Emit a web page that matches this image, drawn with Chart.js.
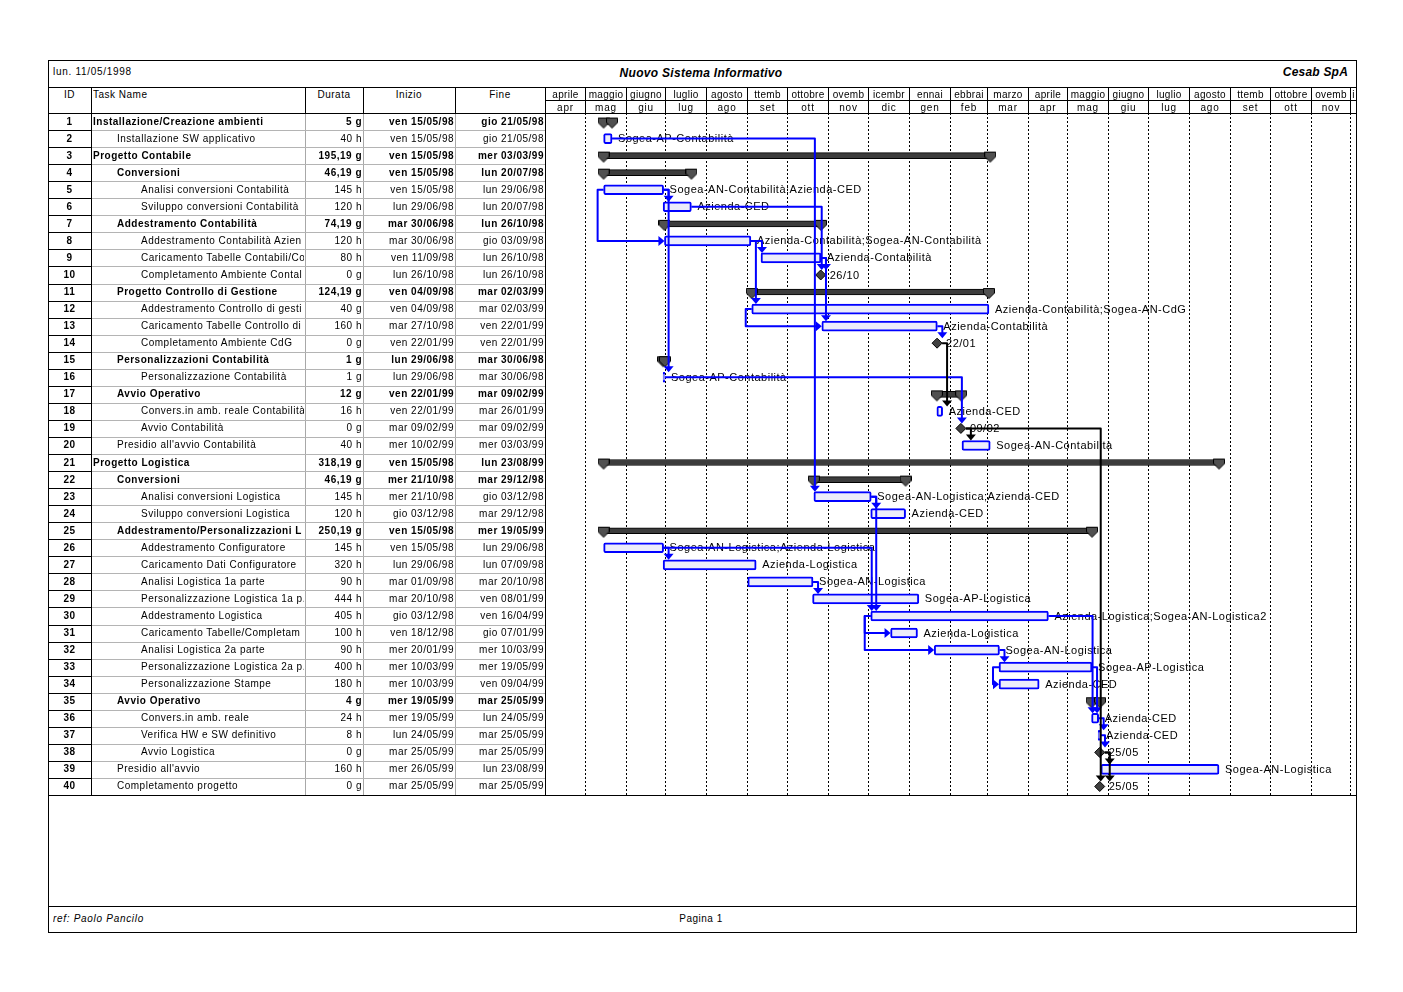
<!DOCTYPE html>
<html>
<head>
<meta charset="utf-8">
<script src="https://cdn.jsdelivr.net/npm/chart.js@4.4.1/dist/chart.umd.min.js"></script>
<style>
body { margin: 0; background: #fff; }
#page { position: relative; width: 1403px; height: 992px; overflow: hidden;
  font-family: "Liberation Sans", Arial, sans-serif; font-size: 10px; color: #000; }
.t { position: absolute; white-space: nowrap; overflow: hidden; letter-spacing: 0.5px; }
.ln { position: absolute; }
#gantt { position: absolute; left: 545px; top: 113px; width: 811px; height: 682px; }
</style>
</head>
<body>
<div id="page"><canvas id="gantt" width="811" height="682"></canvas></div>
<script>
"use strict";

const taskNames = [
  'Installazione/Creazione ambienti', 'Installazione SW applicativo', 'Progetto Contabile', 'Conversioni',
  'Analisi conversioni Contabilità', 'Sviluppo conversioni Contabilità', 'Addestramento Contabilità',
  'Addestramento Contabilità Azien', 'Caricamento Tabelle Contabili/Co', 'Completamento Ambiente Contal',
  'Progetto Controllo di Gestione', 'Addestramento Controllo di gesti', 'Caricamento Tabelle Controllo di',
  'Completamento Ambiente CdG', 'Personalizzazioni Contabilità', 'Personalizzazione Contabilità',
  'Avvio Operativo', 'Convers.in amb. reale Contabilità', 'Avvio Contabilità', "Presidio all'avvio Contabilità",
  'Progetto Logistica', 'Conversioni', 'Analisi conversioni Logistica', 'Sviluppo conversioni Logistica',
  'Addestramento/Personalizzazioni L', 'Addestramento Configuratore', 'Caricamento Dati Configuratore',
  'Analisi Logistica 1a parte', 'Personalizzazione Logistica 1a p.', 'Addestramento Logistica',
  'Caricamento Tabelle/Completam', 'Analisi Logistica 2a parte', 'Personalizzazione Logistica 2a p.',
  'Personalizzazione Stampe', 'Avvio Operativo', 'Convers.in amb. reale', 'Verifica HW e SW definitivo',
  'Avvio Logistica', "Presidio all'avvio", 'Completamento progetto'
];
const durations = [
  '5 g', '40 h', '195,19 g', '46,19 g', '145 h', '120 h', '74,19 g', '120 h', '80 h', '0 g',
  '124,19 g', '40 g', '160 h', '0 g', '1 g', '1 g', '12 g', '16 h', '0 g', '40 h',
  '318,19 g', '46,19 g', '145 h', '120 h', '250,19 g', '145 h', '320 h', '90 h', '444 h', '405 h',
  '100 h', '90 h', '400 h', '180 h', '4 g', '24 h', '8 h', '0 g', '160 h', '0 g'
];
const startDates = [
  'ven 15/05/98', 'ven 15/05/98', 'ven 15/05/98', 'ven 15/05/98', 'ven 15/05/98', 'lun 29/06/98',
  'mar 30/06/98', 'mar 30/06/98', 'ven 11/09/98', 'lun 26/10/98', 'ven 04/09/98', 'ven 04/09/98',
  'mar 27/10/98', 'ven 22/01/99', 'lun 29/06/98', 'lun 29/06/98', 'ven 22/01/99', 'ven 22/01/99',
  'mar 09/02/99', 'mer 10/02/99', 'ven 15/05/98', 'mer 21/10/98', 'mer 21/10/98', 'gio 03/12/98',
  'ven 15/05/98', 'ven 15/05/98', 'lun 29/06/98', 'mar 01/09/98', 'mar 20/10/98', 'gio 03/12/98',
  'ven 18/12/98', 'mer 20/01/99', 'mer 10/03/99', 'mer 10/03/99', 'mer 19/05/99', 'mer 19/05/99',
  'lun 24/05/99', 'mar 25/05/99', 'mer 26/05/99', 'mar 25/05/99'
];
const endDates = [
  'gio 21/05/98', 'gio 21/05/98', 'mer 03/03/99', 'lun 20/07/98', 'lun 29/06/98', 'lun 20/07/98',
  'lun 26/10/98', 'gio 03/09/98', 'lun 26/10/98', 'lun 26/10/98', 'mar 02/03/99', 'mar 02/03/99',
  'ven 22/01/99', 'ven 22/01/99', 'mar 30/06/98', 'mar 30/06/98', 'mar 09/02/99', 'mar 26/01/99',
  'mar 09/02/99', 'mer 03/03/99', 'lun 23/08/99', 'mar 29/12/98', 'gio 03/12/98', 'mar 29/12/98',
  'mer 19/05/99', 'lun 29/06/98', 'lun 07/09/98', 'mar 20/10/98', 'ven 08/01/99', 'ven 16/04/99',
  'gio 07/01/99', 'mer 10/03/99', 'mer 19/05/99', 'ven 09/04/99', 'mar 25/05/99', 'lun 24/05/99',
  'mar 25/05/99', 'mar 25/05/99', 'lun 23/08/99', 'mar 25/05/99'
];
// S = summary, T = task, M = milestone
const taskKinds = ['S','T','S','S','T','T','S','T','T','M','S','T','T','M','S','T','S','T','M','T',
  'S','S','T','T','S','T','T','T','T','T','T','T','T','T','S','T','T','M','T','M'];
const outlineLevel = [0,1,0,1,2,2,1,2,2,2,1,2,2,2,1,2,1,2,2,1,0,1,2,2,1,2,2,2,2,2,2,2,2,2,1,2,2,2,1,1];
const resources = [
  '', 'Sogea-AP-Contabilità', '', '', 'Sogea-AN-Contabilità;Azienda-CED', 'Azienda-CED', '',
  'Azienda-Contabilità;Sogea-AN-Contabilità', 'Azienda-Contabilità', '26/10', '',
  'Azienda-Contabilità;Sogea-AN-CdG', 'Azienda-Contabilità', '22/01', '', 'Sogea-AP-Contabilità', '',
  'Azienda-CED', '09/02', 'Sogea-AN-Contabilità', '', '', 'Sogea-AN-Logistica;Azienda-CED', 'Azienda-CED', '',
  'Sogea-AN-Logistica;Azienda-Logistica', 'Azienda-Logistica', 'Sogea-AN-Logistica', 'Sogea-AP-Logistica',
  'Azienda-Logistica;Sogea-AN-Logistica2', 'Azienda-Logistica', 'Sogea-AN-Logistica', 'Sogea-AP-Logistica',
  'Azienda-CED', '', 'Azienda-CED', 'Azienda-CED', '25/05', 'Sogea-AN-Logistica', '25/05'
];
const monthNames = ['aprile','maggio','giugno','luglio','agosto','ttemb','ottobre','ovemb','icembr','ennai',
  'ebbrai','marzo','aprile','maggio','giugno','luglio','agosto','ttemb','ottobre','ovemb','i'];
const monthShort = ['apr','mag','giu','lug','ago','set','ott','nov','dic','gen','feb','mar',
  'apr','mag','giu','lug','ago','set','ott','nov',''];
// [predecessor, successor, type]
const blueLinks = [
  [2,23,'FS'], [5,6,'FS'], [5,16,'FS'], [5,8,'SS'], [6,10,'FS'], [8,9,'FS'], [8,12,'FS'],
  [9,10,'FS'], [9,13,'FS'], [12,13,'SS'], [13,14,'FS'], [16,19,'FS'], [23,24,'FS'], [23,30,'FS'],
  [26,27,'FS'], [26,30,'FS'], [28,29,'FS'], [30,31,'SS'], [30,32,'SS'], [32,33,'FS'], [33,34,'SS'],
  [30,36,'FS'], [33,36,'FS'], [36,37,'FS'], [37,38,'FS']
];
const blackLinks = [[14,18,'FS'], [19,20,'FS'], [19,40,'FS'], [38,39,'FS'], [38,40,'FS']];

function dayOf(s) {
  const p = s.slice(-8).split('/');
  return (Date.UTC(1900 + Number(p[2]), Number(p[1]) - 1, Number(p[0])) - Date.UTC(1998, 0, 1)) / 864e5;
}
const startVal = i => dayOf(startDates[i]) + 0.33;
const endVal = i => dayOf(endDates[i]) + 0.7;
const msVal = i => dayOf(startDates[i]) + 0.5;

const monthStarts = [];
for (let i = 0; i <= monthNames.length; i++) {
  monthStarts.push((Date.UTC(1998, 3 + i, 1) - Date.UTC(1998, 0, 1)) / 864e5);
}

const rowLabels = taskNames.map((n, i) => String(i + 1));

function pentagon() {
  const c = document.createElement('canvas');
  c.width = 12; c.height = 18;
  const g = c.getContext('2d');
  g.beginPath();
  g.moveTo(0.5, 5.5); g.lineTo(11.5, 5.5); g.lineTo(11.5, 10); g.lineTo(6, 15.5); g.lineTo(0.5, 10);
  g.closePath();
  g.fillStyle = '#505050'; g.fill();
  g.strokeStyle = '#000'; g.lineWidth = 1; g.stroke();
  return c;
}

const ganttDecor = {
  id: 'ganttDecor',
  beforeDatasetsDraw(chart) {
    const ctx = chart.ctx, x = chart.scales.x, a = chart.chartArea;
    ctx.save();
    ctx.strokeStyle = '#000';
    ctx.lineWidth = 1;
    ctx.setLineDash([2, 2]);
    monthStarts.forEach(m => {
      const px = Math.round(x.getPixelForValue(m)) + 0.5;
      if (px <= a.left + 1 || px >= a.right) return;
      ctx.beginPath(); ctx.moveTo(px, a.top); ctx.lineTo(px, a.bottom); ctx.stroke();
    });
    ctx.restore();
  },
  afterDatasetsDraw(chart) {
    const ctx = chart.ctx, xs = chart.scales.x, ys = chart.scales.y;
    const px = v => xs.getPixelForValue(v);
    const py = i => ys.getPixelForValue(i);
    const bStart = i => taskKinds[i] === 'M' ? px(msVal(i)) : px(startVal(i));
    const bEnd = i => taskKinds[i] === 'M' ? px(msVal(i)) + 5 : px(endVal(i));
    const bTop = i => py(i) - (taskKinds[i] === 'S' ? 3 : 5);

    ctx.save();
    ctx.font = '11px "Liberation Sans", Arial, sans-serif';
    if ('letterSpacing' in ctx) ctx.letterSpacing = '0.5px';
    ctx.fillStyle = '#000';
    ctx.textBaseline = 'middle';
    resources.forEach((r, i) => {
      if (!r) return;
      const lx = taskKinds[i] === 'M' ? px(msVal(i)) + 9 : px(endVal(i)) + 6;
      ctx.fillText(r, lx, py(i) + 0.5);
    });

    function drawLinks(list, color) {
      ctx.strokeStyle = color;
      ctx.fillStyle = color;
      ctx.lineWidth = 2;
      ctx.lineJoin = 'round';
      list.forEach(([from, to, type]) => {
        const p = from - 1, s = to - 1;
        const yp = py(p), ysu = py(s);
        ctx.beginPath();
        if (type === 'FS') {
          const xe = bEnd(p), xv = Math.max(bStart(s) + 1, xe + 5), tip = bTop(s);
          ctx.moveTo(xe, yp); ctx.lineTo(xv, yp); ctx.lineTo(xv, tip - 5);
          ctx.stroke();
          ctx.beginPath();
          ctx.moveTo(xv - 5, tip - 6); ctx.lineTo(xv + 5, tip - 6); ctx.lineTo(xv, tip);
          ctx.closePath(); ctx.fill();
        } else {
          const xp = bStart(p), xsu = bStart(s);
          ctx.moveTo(xp, yp); ctx.lineTo(xp - 6, yp); ctx.lineTo(xp - 6, ysu); ctx.lineTo(xsu - 5, ysu);
          ctx.stroke();
          ctx.beginPath();
          ctx.moveTo(xsu - 6, ysu - 5); ctx.lineTo(xsu - 6, ysu + 5); ctx.lineTo(xsu, ysu);
          ctx.closePath(); ctx.fill();
        }
      });
    }
    drawLinks(blueLinks, '#0000ff');
    drawLinks(blackLinks, '#000');
    ctx.restore();
  }
};

const pent = pentagon();
const summaryEnds = [];
const milestones = [];
taskKinds.forEach((k, i) => {
  if (k === 'S') {
    summaryEnds.push({x: startVal(i), y: rowLabels[i]});
    summaryEnds.push({x: endVal(i), y: rowLabels[i]});
  }
  if (k === 'M') milestones.push({x: msVal(i), y: rowLabels[i]});
});

const chart = new Chart(document.getElementById('gantt'), {
  type: 'bar',
  data: {
    labels: rowLabels,
    datasets: [{
      label: 'Attività',
      data: taskKinds.map((k, i) => k === 'T' ? [startVal(i), endVal(i)] : null),
      indexAxis: 'y',
      grouped: false,
      barThickness: 10,
      backgroundColor: '#ececfa',
      borderColor: '#0000ff',
      borderWidth: 2,
      borderRadius: 2,
      borderSkipped: false,
      order: 3
    }, {
      label: 'Riepilogo',
      data: taskKinds.map((k, i) => k === 'S' ? [startVal(i), endVal(i)] : null),
      indexAxis: 'y',
      grouped: false,
      barThickness: 6,
      backgroundColor: '#3c3c3c',
      borderColor: '#000',
      borderWidth: 1,
      borderSkipped: false,
      order: 4
    }, {
      type: 'scatter',
      label: 'Estremi riepilogo',
      data: summaryEnds,
      pointStyle: pent,
      pointRadius: 5,
      order: 2
    }, {
      type: 'scatter',
      label: 'Cardini',
      data: milestones,
      pointStyle: 'rectRot',
      pointRadius: 5,
      backgroundColor: '#404040',
      borderColor: '#000',
      borderWidth: 1,
      order: 1
    }]
  },
  options: {
    indexAxis: 'y',
    responsive: false,
    animation: false,
    layout: { padding: 0, autoPadding: false },
    plugins: { legend: { display: false }, tooltip: { enabled: false } },
    scales: {
      x: { type: 'linear', min: 90, max: 703.3, display: false },
      y: { type: 'category', offset: true, display: false }
    }
  },
  plugins: [ganttDecor]
});

// ---- page furniture: frame, table, timescale ----
const page = document.getElementById('page');
function line(l, t, w, h, color) {
  const d = document.createElement('div');
  d.className = 'ln';
  d.style.cssText = `left:${l}px;top:${t}px;width:${w}px;height:${h}px;background:${color || '#000'}`;
  page.appendChild(d);
}
function text(s, l, t, w, h, css) {
  const d = document.createElement('div');
  d.className = 't';
  d.textContent = s;
  d.style.cssText += `left:${l}px;top:${t}px;width:${w}px;height:${h}px;line-height:${h}px;` + (css || '');
  page.appendChild(d);
  return d;
}

// frame
line(48, 60, 1309, 1); line(48, 932, 1309, 1); line(48, 60, 1, 873); line(1356, 60, 1, 873);
line(48, 87, 1309, 1); line(48, 113, 1309, 1); line(48, 795, 1309, 1); line(48, 906, 1309, 1);

text('lun. 11/05/1998', 53, 65, 200, 14, 'letter-spacing:0.7px;');
text('Nuovo Sistema Informativo', 551, 66, 300, 14, 'text-align:center;font-weight:bold;font-style:italic;font-size:12px;letter-spacing:0.3px;');
text('Cesab SpA', 1148, 65, 200, 14, 'text-align:right;font-weight:bold;font-style:italic;font-size:12px;letter-spacing:0.2px;');
text('ref: Paolo Pancilo', 53, 912, 200, 14, 'font-style:italic;letter-spacing:0.7px;');
text('Pagina 1', 601, 912, 200, 14, 'text-align:center;');

// table header
text('ID', 48, 88, 43, 14, 'text-align:center;');
text('Task Name', 93, 88, 210, 14);
text('Durata', 305, 88, 58, 14, 'text-align:center;');
text('Inizio', 363, 88, 92, 14, 'text-align:center;');
text('Fine', 455, 88, 90, 14, 'text-align:center;');
line(91, 87, 1, 708);
[305, 363, 455].forEach(x => { line(x, 87, 1, 26); line(x, 114, 1, 681, '#a8a8a8'); });
line(545, 87, 1, 708);

const rowH = 682 / taskNames.length;
taskNames.forEach((name, i) => {
  const top = 112.5 + i * rowH;
  const bold = taskKinds[i] === 'S' ? 'font-weight:bold;' : '';
  text(String(i + 1), 48, top, 43, rowH, 'text-align:center;font-weight:bold;');
  text(name, 91, top, 213, rowH, bold + `padding-left:${2 + outlineLevel[i] * 24}px;box-sizing:border-box;`);
  text(durations[i], 305, top, 57, rowH, bold + 'text-align:right;');
  text(startDates[i], 363, top, 91, rowH, bold + 'text-align:right;');
  text(endDates[i], 455, top, 89, rowH, bold + 'text-align:right;');
  if (i < taskNames.length - 1) {
    const y = Math.round(113 + (i + 1) * rowH);
    line(48, y, 43, 1);
    line(92, y, 453, 1, '#b4b4b4');
  }
});

// timescale header
const xScale = chart.scales.x;
line(545, 100, 811, 1);
monthNames.forEach((m, i) => {
  const a = Math.round(545 + xScale.getPixelForValue(monthStarts[i]));
  const b = Math.min(1356, Math.round(545 + xScale.getPixelForValue(monthStarts[i + 1])));
  text(m, a + 1, 88, b - a - 1, 13, 'text-align:center;overflow:visible;letter-spacing:0.3px;');
  text(monthShort[i], a + 1, 101, b - a - 1, 13, 'text-align:center;letter-spacing:0.8px;');
  if (b < 1356) line(b, 87, 1, 26);
});
</script>
</body>
</html>
